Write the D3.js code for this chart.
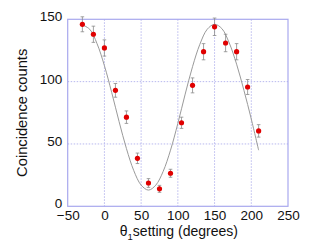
<!DOCTYPE html>
<html><head><meta charset="utf-8">
<script src="https://cdn.jsdelivr.net/npm/d3@7"></script>
<style>
html,body{margin:0;padding:0;background:#fff;}
svg{display:block;font-family:"Liberation Sans",Arial,Helvetica,sans-serif;}
</style></head>
<body><svg id="c" width="324" height="248"></svg>
<script>
// Measured data
const angles = [-30,-15,0,15,30,45,60,75,90,105,120,135,150,165,180,195,210];
const counts = [146,138,127,93,71.5,38.5,18.7,14,26.5,67,97,124,144,131,124,95.7,60.5];
const errors = [6,6.5,6.5,5.5,5,4.2,3.5,2.8,3.2,4.5,6,6.5,7,7,6.5,6,5];
// Fit curve
const fitAngles = [-32,-20,-10,0,10,20,30,40,50,60,70,80,90,100,110,120,130,140,150,160,170,180,190,200,210];
const fitCounts = [146,142,130.4,112.8,91.1,67.9,46.3,28.6,17,13,17,28,45,66.5,90,112,130,142,146,142.5,131,114,93,70,45];
const xTicks = [-50,0,50,100,150,200,250];
const yTicks = [0,50,100,150];

const svg = d3.select("#c");
const L = 67.7, R = 288, T = 19.3, B = 206.3;
const x = d3.scaleLinear().domain([-50,250]).range([L,R]);
const y = d3.scaleLinear().domain([0,150]).range([B,T]);
const frame = "#a8a8ee", grid = "#b8b8ee";

// grid
svg.append("g").selectAll("line").data(xTicks.slice(1,-1)).join("line")
  .attr("x1",d=>x(d)).attr("x2",d=>x(d)).attr("y1",T).attr("y2",B)
  .attr("stroke",grid).attr("stroke-width",1).attr("stroke-dasharray","1.5,1.5");
svg.append("g").selectAll("line").data(yTicks.slice(1,-1)).join("line")
  .attr("y1",d=>y(d)).attr("y2",d=>y(d)).attr("x1",L).attr("x2",R)
  .attr("stroke",grid).attr("stroke-width",1).attr("stroke-dasharray","1.5,1.5");

// frame
svg.append("rect").attr("x",L).attr("y",T).attr("width",R-L).attr("height",B-T)
  .attr("fill","none").attr("stroke",frame).attr("stroke-width",1.2);

// axes labels via d3 axes (no domain/ticks lines)
const xAxis = svg.append("g").attr("transform",`translate(0,${B})`)
  .call(d3.axisBottom(x).tickValues(xTicks).tickSize(0).tickPadding(3).tickFormat(d3.format("d")));
xAxis.select(".domain").remove();
xAxis.selectAll("text").attr("font-size",13.5).attr("fill","#111").attr("font-family",null).attr("dy","0.76em");
const yAxis = svg.append("g").attr("transform",`translate(${L},0)`)
  .call(d3.axisLeft(y).tickValues(yTicks).tickSize(0).tickPadding(5.5).tickFormat(d3.format("d")));
yAxis.select(".domain").remove();
yAxis.selectAll("text").attr("font-size",13.5).attr("fill","#111").attr("font-family",null).attr("dy","0.12em");

// fit curve
svg.append("path").datum(fitAngles.map((a,i)=>[a,fitCounts[i]]))
  .attr("d",d3.line().x(d=>x(d[0])).y(d=>y(d[1])).curve(d3.curveCatmullRom))
  .attr("fill","none").attr("stroke","#9a9a9a").attr("stroke-width",1);

// error bars
const eb = svg.append("g").attr("stroke","#8a8a8a").attr("stroke-width",0.8);
angles.forEach((a,i)=>{
  const cx = x(a), y1 = y(counts[i]-errors[i]), y2 = y(counts[i]+errors[i]);
  eb.append("line").attr("x1",cx).attr("x2",cx).attr("y1",y1).attr("y2",y2);
  eb.append("line").attr("x1",cx-1.8).attr("x2",cx+1.8).attr("y1",y1).attr("y2",y1);
  eb.append("line").attr("x1",cx-1.8).attr("x2",cx+1.8).attr("y1",y2).attr("y2",y2);
});

// points
svg.append("g").selectAll("circle").data(angles).join("circle")
  .attr("cx",d=>x(d)).attr("cy",(d,i)=>y(counts[i])).attr("r",2.6).attr("fill","#e00000");

// axis titles
const xt = svg.append("text").attr("x",(L+R)/2+1).attr("y",236).attr("text-anchor","middle")
  .attr("font-size",14).attr("fill","#111");
xt.append("tspan").text("θ");
xt.append("tspan").attr("font-size",9.5).attr("dy",3.5).text("1");
xt.append("tspan").attr("dy",-3.5).text("setting (degrees)");

svg.append("text").attr("transform",`translate(26.5,${(T+B)/2}) rotate(-90)`)
  .attr("text-anchor","middle").attr("font-size",14.7).attr("fill","#111").text("Coincidence counts");
</script></body></html>
